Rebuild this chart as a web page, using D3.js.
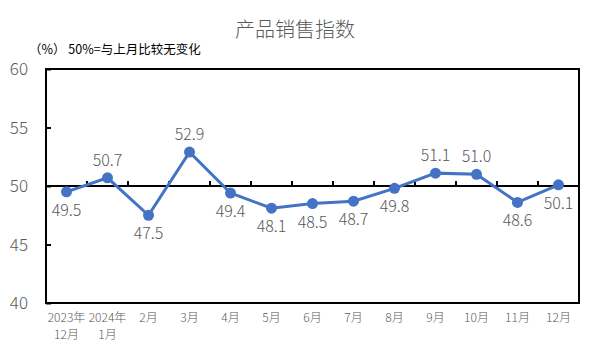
<!DOCTYPE html>
<html>
<head>
<meta charset="utf-8">
<script src="https://cdn.jsdelivr.net/npm/d3@7"></script>
<style>
  body { margin: 0; background: #fff; }
  text { font-family: "Noto Sans CJK SC", "Liberation Sans", sans-serif; font-weight: 300; }
</style>
</head>
<body>
<div id="chart"></div>
<script>
// data
const months = ["2023年|12月", "2024年|1月", "2月", "3月", "4月", "5月", "6月", "7月", "8月", "9月", "10月", "11月", "12月"];
const values = [49.5, 50.7, 47.5, 52.9, 49.4, 48.1, 48.5, 48.7, 49.8, 51.1, 51.0, 48.6, 50.1];
const labelAbove = [false, true, false, true, false, false, false, false, false, true, true, false, false];
const yTicks = [40, 45, 50, 55, 60];

const width = 591, height = 354,
      margin = ({ top: 69, right: 12, bottom: 52, left: 46 });

let svg = d3.select("#chart")
    .append("svg")
    .attr("width", width)
    .attr("height", height);

let x = d3.scaleBand()
    .domain(d3.range(months.length))
    .range([margin.left, width - margin.right]);

let y = d3.scaleLinear()
    .domain([40, 60])
    .range([height - margin.bottom + 1, margin.top]);

// title + note
svg.append("text")
    .attr("x", 295).attr("y", 37)
    .attr("text-anchor", "middle")
    .style("font-size", "20px")
    .style("fill", "#595959")
    .text("产品销售指数");

svg.append("text")
    .attr("x", 29).attr("y", 54)
    .style("font-size", "12.5px")
    .style("font-weight", "400")
    .style("fill", "#000")
    .text("（%） 50%=与上月比较无变化");

// frame
svg.append("rect")
    .attr("x", margin.left).attr("y", y(60))
    .attr("width", width - margin.right - margin.left)
    .attr("height", y(40) - y(60))
    .attr("fill", "none")
    .attr("stroke", "#000")
    .attr("stroke-width", 2);

// y axis inner ticks
svg.append("g")
    .attr("transform", `translate(${margin.left}, 0)`)
    .call(d3.axisRight(y).tickValues(yTicks).tickSize(5).tickFormat(""))
    .call(g => g.select(".domain").remove())
    .call(g => g.selectAll("line").attr("stroke", "#000").attr("stroke-width", 2));

svg.append("g")
    .selectAll("text")
    .data(yTicks)
    .join("text")
    .attr("x", 28)
    .attr("y", d => y(d) + 6)
    .attr("text-anchor", "end")
    .style("font-size", "17px")
    .style("fill", "#595959")
    .text(d => d);

// 50 baseline with category ticks
svg.append("line")
    .attr("x1", margin.left).attr("x2", width - margin.right)
    .attr("y1", y(50)).attr("y2", y(50))
    .attr("stroke", "#000").attr("stroke-width", 2);

svg.append("g")
    .selectAll("line")
    .data(d3.range(1, months.length))
    .join("line")
    .attr("x1", d => x(d)).attr("x2", d => x(d))
    .attr("y1", y(50)).attr("y2", y(50) - 5)
    .attr("stroke", "#000").attr("stroke-width", 2);

// x labels
let xl = svg.append("g")
    .selectAll("text")
    .data(months)
    .join("text")
    .attr("x", (d, i) => x(i) + x.bandwidth() / 2)
    .attr("y", 322)
    .attr("text-anchor", "middle")
    .style("font-size", "12px")
    .style("fill", "#595959");

xl.selectAll("tspan")
    .data(d => d.split("|"))
    .join("tspan")
    .attr("x", function () { return this.parentNode.getAttribute("x"); })
    .attr("dy", (d, i) => i === 0 ? 0 : 17)
    .text(d => d);

// line
let line = d3.line()
    .x((d, i) => x(i) + x.bandwidth() / 2)
    .y(d => y(d));

svg.append("path")
    .datum(values)
    .attr("d", line)
    .attr("fill", "none")
    .attr("stroke", "#4472C4")
    .attr("stroke-width", 3);

svg.append("g")
    .selectAll("circle")
    .data(values)
    .join("circle")
    .attr("cx", (d, i) => x(i) + x.bandwidth() / 2)
    .attr("cy", d => y(d))
    .attr("r", 5.5)
    .attr("fill", "#4472C4");

// data labels
svg.append("g")
    .selectAll("text")
    .data(values)
    .join("text")
    .attr("x", (d, i) => x(i) + x.bandwidth() / 2)
    .attr("y", (d, i) => labelAbove[i] ? y(d) - 12 : y(d) + 24)
    .attr("text-anchor", "middle")
    .style("font-size", "16px")
    .style("fill", "#595959")
    .text(d => d.toFixed(1));
</script>
</body>
</html>
